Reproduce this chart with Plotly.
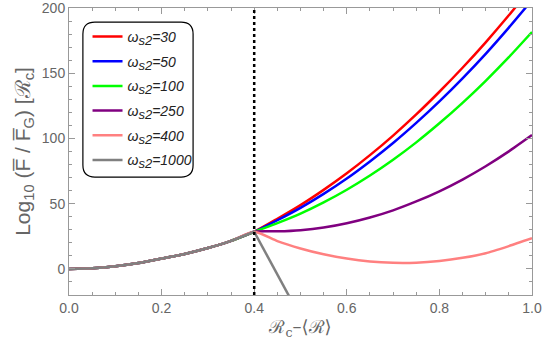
import plotly.graph_objects as go

# common branch, shared by all curves up to the cut at 0.4
x_low = [0.0, 0.05, 0.1, 0.15, 0.2, 0.25, 0.3, 0.35, 0.4]
y_low = [0.0, 0.5, 2.0, 4.5, 8.0, 11.5, 16.0, 21.5, 28.5]

x_high = [0.4, 0.45, 0.5, 0.55, 0.6, 0.65, 0.7, 0.75, 0.8, 0.85, 0.9, 0.95, 1.0]
y_w30 = [28.5, 38.4, 48.9, 60.6, 73.3, 87.2, 102.2, 118.4, 135.8, 154.2, 173.7, 194.4, 216.2]
y_w50 = [28.5, 37.3, 46.8, 57.5, 69.3, 82.4, 96.5, 111.9, 128.4, 146.1, 164.9, 185.0, 206.1]
y_w100 = [28.5, 35.1, 42.4, 51.0, 60.7, 71.6, 83.7, 97.0, 111.6, 127.3, 144.2, 162.3, 181.6]
y_w250 = [28.5, 28.8, 29.7, 31.7, 35.0, 39.4, 44.9, 51.7, 59.5, 68.5, 78.7, 90.1, 102.6]
y_w400 = [28.5, 21.3, 15.7, 11.2, 7.9, 5.7, 4.7, 4.8, 6.1, 8.5, 12.0, 17.5, 23.5]
x_w1000 = [0.4, 0.45, 0.5]
y_w1000 = [28.5, -4.0, -37.0]

labels = ["30", "50", "100", "250", "400", "1000"]
colors = ["#FF0000", "#0000FF", "#00FF00", "#800080", "#FF8080", "#808080"]
x_cut = 0.4


def legend_name(lab):
    return "<i>ω<sub><span style='font-size:13px'>s2</span></sub>=" + lab + "</i>"


fig = go.Figure()

for lab, col, yh in zip(labels[:5], colors[:5], [y_w30, y_w50, y_w100, y_w250, y_w400]):
    fig.add_trace(go.Scatter(
        x=x_low + x_high[1:], y=y_low + yh[1:],
        mode="lines", line=dict(color=col, width=2.5, shape="spline", smoothing=0.6),
        name=legend_name(lab), legendgroup=lab,
    ))

# gray: smooth branch plus straight drop after the cut
fig.add_trace(go.Scatter(
    x=x_low, y=y_low, mode="lines",
    line=dict(color=colors[5], width=2.5, shape="spline", smoothing=0.6),
    name=legend_name(labels[5]), legendgroup=labels[5],
))
fig.add_trace(go.Scatter(
    x=x_w1000, y=y_w1000, mode="lines",
    line=dict(color=colors[5], width=2.5), showlegend=False, legendgroup=labels[5],
))

fig.add_shape(type="line", xref="x", yref="paper", x0=x_cut, x1=x_cut, y0=0, y1=1,
              line=dict(color="black", width=2.5, dash="dot"))

# rounded legend frame
x0, x1, y0, y1 = 0.030, 0.268, 0.411, 0.951
rx, ry = 0.026, 0.042
path = (f"M {x0+rx},{y1} L {x1-rx},{y1} Q {x1},{y1} {x1},{y1-ry} "
        f"L {x1},{y0+ry} Q {x1},{y0} {x1-rx},{y0} L {x0+rx},{y0} "
        f"Q {x0},{y0} {x0},{y0+ry} L {x0},{y1-ry} Q {x0},{y1} {x0+rx},{y1} Z")
fig.add_shape(type="path", xref="paper", yref="paper", path=path,
              line=dict(color="black", width=1.2), fillcolor="white", layer="below")

axis_common = dict(
    showline=True, linecolor="#999999", linewidth=1, mirror="ticks",
    ticks="inside", tickcolor="#999999", ticklen=6,
    showgrid=False, zeroline=False, automargin=False, ticklabeloverflow="allow",
    tickfont=dict(family="Liberation Sans", size=14, color="#666666"),
)

fig.update_xaxes(
    range=[0, 1], tickvals=[0, 0.2, 0.4, 0.6, 0.8, 1.0],
    ticktext=["0.0", "0.2", "0.4", "0.6", "0.8", "1.0"],
    minor=dict(dtick=0.05, ticks="inside", ticklen=3, tickcolor="#999999"),
    title=dict(text="ℛ<sub>c</sub>–⟨ℛ⟩", font=dict(family="DejaVu Serif", size=18, color="#666666"),
               standoff=5),
    **axis_common,
)
fig.update_yaxes(
    range=[-20, 200], tickvals=[0, 50, 100, 150, 200],
    minor=dict(dtick=10, ticks="inside", ticklen=3, tickcolor="#999999"),
    title=dict(text="Log<sub>10</sub> (F̅ / F̅<sub>G</sub>) [ℛ<sub>c</sub>]",
               font=dict(family="Liberation Sans", size=21, color="#666666"), standoff=5),
    **axis_common,
)

fig.update_layout(
    width=545, height=355,
    margin=dict(l=69, r=13, t=8, b=60),
    plot_bgcolor="white", paper_bgcolor="white",
    legend=dict(x=0.04, y=0.955, xanchor="left", yanchor="top",
                bgcolor="rgba(0,0,0,0)", borderwidth=0,
                font=dict(family="Liberation Sans", size=14, color="#222222"),
                itemwidth=30, tracegroupgap=3.5),
)

fig.write_html("out.html", config={"displayModeBar": False},
               post_script="document.body.style.margin='0';")
